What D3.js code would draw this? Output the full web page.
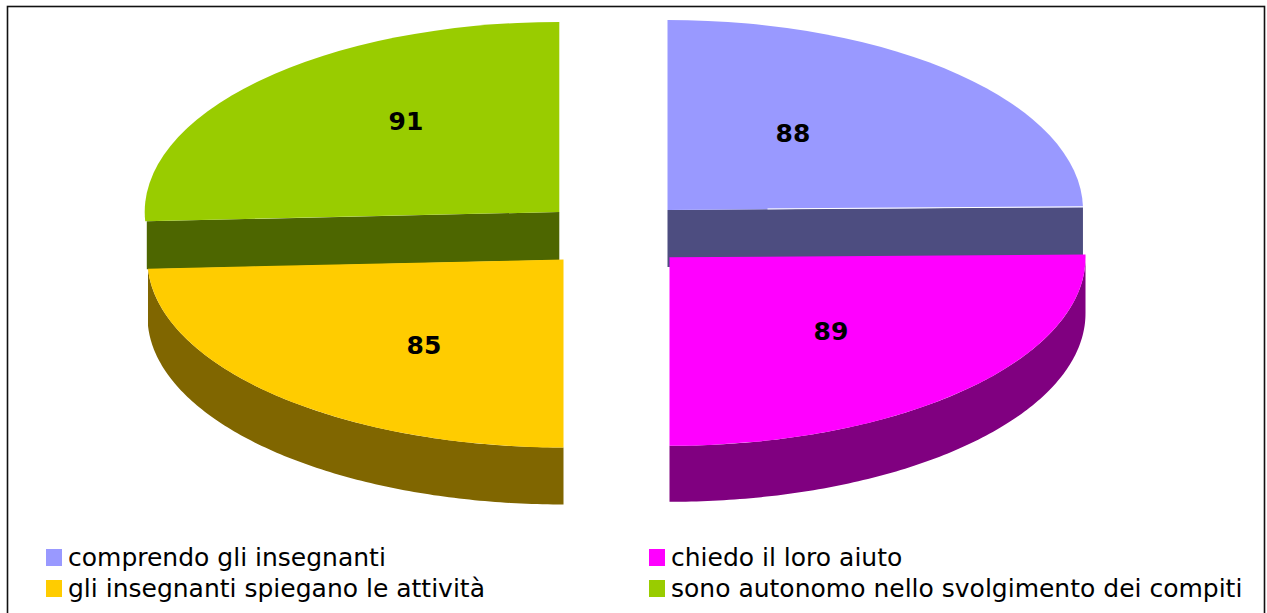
<!DOCTYPE html>
<html><head><meta charset="utf-8">
<script src="https://cdn.jsdelivr.net/npm/d3@7/dist/d3.min.js"></script>
<style>html,body{margin:0;padding:0;background:#fff;overflow:hidden}svg{display:block}</style>
</head><body><svg id="c" width="1267" height="613"></svg>
<script>
const categories = ["comprendo gli insegnanti","chiedo il loro aiuto","gli insegnanti spiegano le attività","sono autonomo nello svolgimento dei compiti"];
const values = [88,89,85,91];
const topColors = ["#9999FF","#FF00FF","#FFCC00","#99CC00"];
const sideColors = ["#4D4D80","#800080","#806600","#4D6600"];

const centers = [[667.5,210],[669.5,257.3],[563.5,259.5],[559.3,212]];
const radiiX = [415.5,416,416,414.5];
const radiiY = [190,188.5,188,190];
const depths = [57,56,57,48];
const labelPos = [[793,133],[831,331],[424,345],[406,121]];
const legendPos = [[46,68,549],[649,671,549],[46,68,580],[649,671,580]];
const svg = d3.select("#c");
svg.append("rect").attr("x",7.5).attr("y",6.5).attr("width",1257).attr("height",640)
  .attr("fill","#fff").attr("stroke","#111").attr("stroke-width",1.6);

// Horizontal cuts follow the data; the vertical cuts sit on the axis as in the reference.
const pie = d3.pie().sort(null).value(d=>d)(values);
const tilt = 0.6*Math.PI/180;
const a1 = pie[0].endAngle - tilt, a3 = pie[2].endAngle;
const spans = [[0,a1],[a1,Math.PI],[Math.PI,a3],[a3,2*Math.PI]];
const arc = d3.arc().innerRadius(0).outerRadius(1);
const px = (i,a)=>centers[i][0]+radiiX[i]*Math.sin(a), py=(i,a)=>centers[i][1]-radiiY[i]*Math.cos(a);

function wall(i){
  const s=Math.max(spans[i][0],Math.PI/2), e=Math.min(spans[i][1],Math.PI*1.5);
  if(e<=s) return null;
  const n=120, ang=d3.range(n+1).map(k=>s+(e-s)*k/n);
  return d3.area().x(t=>px(i,t)).y0(t=>py(i,t)).y1(t=>py(i,t)+depths[i])(ang);
}
function cut(i,angle,inset){
  const c=centers[i], x=px(i,angle), y=py(i,angle);
  return d3.line()([[c[0],c[1]],[x+inset,y],[x+inset,y+depths[i]],[c[0],c[1]+depths[i]]])+"Z";
}
function drawSlice(i){
  const g=svg.append("g");
  if(i===0) g.append("path").attr("d",cut(0,spans[0][1],0)).attr("fill",sideColors[0]);
  if(i===3) g.append("path").attr("d",cut(3,spans[3][0],1.5)).attr("fill",sideColors[3]);
  const w=i===3?null:wall(i);
  if(w) g.append("path").attr("d",w).attr("fill",sideColors[i]);
  g.append("path").attr("d",arc({startAngle:spans[i][0],endAngle:spans[i][1]}))
    .attr("transform",`translate(${centers[i][0]},${centers[i][1]}) scale(${radiiX[i]},${radiiY[i]})`)
    .attr("fill",topColors[i]);
  if(i===0){
    const c=centers[0],a=spans[0][1],ex=px(0,a),ey=py(0,a);
    const f=100/(ex-c[0]);
    g.append("line").attr("x1",c[0]+100).attr("y1",c[1]+(ey-c[1])*f-0.4).attr("x2",ex).attr("y2",ey-0.4)
      .attr("stroke","#fff").attr("stroke-width",1);
  }
}
[0,3,2,1].forEach(drawSlice);

svg.selectAll("text.v").data(values).join("text").attr("class","v")
  .attr("x",(d,i)=>labelPos[i][0]).attr("y",(d,i)=>labelPos[i][1]+9)
  .attr("text-anchor","middle").attr("font-family","'DejaVu Sans'").attr("font-weight","bold")
  .attr("font-size",25).attr("fill","#000").text(d=>d);

categories.forEach((t,i)=>{
  const l=legendPos[i];
  svg.append("rect").attr("x",l[0]).attr("y",l[2]).attr("width",16).attr("height",17).attr("fill",topColors[i]);
  svg.append("text").attr("x",l[1]).attr("y",l[2]+17).attr("font-family","'DejaVu Sans'")
    .attr("font-size",25).attr("fill","#000").text(t);
});
</script></body></html>
